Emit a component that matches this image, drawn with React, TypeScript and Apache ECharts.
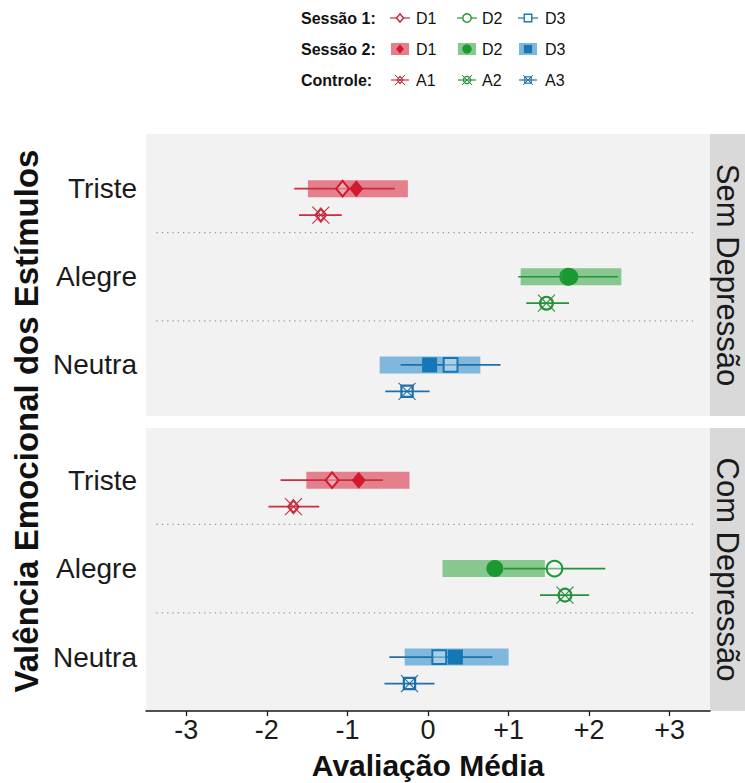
import React, { useEffect, useRef } from 'react';
import * as echarts from 'echarts';

const categories = ['Triste', 'Alegre', 'Neutra'];
const panelNames = ['Sem Depressão', 'Com Depressão'];
const xTickValues = [-3, -2, -1, 0, 1, 2, 3];
const legendRowLabels = ['Sessão 1:', 'Sessão 2:', 'Controle:'];
const legendItemLabels = [['D1', 'D2', 'D3'], ['D1', 'D2', 'D3'], ['A1', 'A2', 'A3']];
const xAxisTitle = 'Avaliação Média';
const yAxisTitle = 'Valência Emocional dos Estímulos';

// [mean, lower, upper] for Triste, Alegre, Neutra
const sessao1Sem = [[-1.06, -1.66, -0.41], [1.74, 1.12, 2.36], [0.28, -0.34, 0.9]];
const sessao2Sem = [[-0.89, -1.49, -0.25], [1.76, 1.15, 2.4], [0.02, -0.6, 0.65]];
const controleSem = [[-1.33, -1.6, -1.07], [1.47, 1.22, 1.75], [-0.26, -0.53, 0.02]];
const sessao1Com = [[-1.19, -1.83, -0.56], [1.57, 0.94, 2.2], [0.14, -0.48, 0.8]];
const sessao2Com = [[-0.86, -1.51, -0.23], [0.83, 0.18, 1.45], [0.34, -0.29, 1.0]];
const controleCom = [[-1.67, -1.98, -1.35], [1.7, 1.39, 2.0], [-0.23, -0.54, 0.08]];
const separators = [0.5, 1.5];

const markColors = ['#d11a2e', '#1a9933', '#1677b6'];
const lineColors = ['#c62f40', '#27903a', '#1d70a8'];
const bandColors = ['#e57f8c', '#86c88d', '#7fb8dc'];

const FONT = "'Liberation Sans', Arial, sans-serif";
const CTRL_OFFSET = 0.3;
const SEP_FROM = -3.37;
const SEP_TO = 3.3;

function marker(kind: number, cx: number, cy: number, scale: number, style: any) {
  if (kind === 0) {
    const w = 7 * scale, h = 8.5 * scale;
    return { type: 'polygon', shape: { points: [[cx, cy - h], [cx + w, cy], [cx, cy + h], [cx - w, cy]] }, style };
  }
  if (kind === 1) {
    return { type: 'circle', shape: { cx, cy, r: 8.5 * scale }, style };
  }
  const s = 7.5 * scale;
  return { type: 'rect', shape: { x: cx - s, y: cy - s, width: 2 * s, height: 2 * s }, style };
}

function xMark(cx: number, cy: number, r: number, color: string, lw: number) {
  return [
    { type: 'line', shape: { x1: cx - r, y1: cy - r, x2: cx + r, y2: cy + r }, style: { stroke: color, lineWidth: lw } },
    { type: 'line', shape: { x1: cx - r, y1: cy + r, x2: cx + r, y2: cy - r }, style: { stroke: color, lineWidth: lw } },
  ];
}

const toData = (arr: number[][]) => arr.map((d, i) => [i, d[0], d[1], d[2]]);

function panelSeries(p: number, s1: number[][], s2: number[][], ctrl: number[][]) {
  const base = { type: 'custom', xAxisIndex: p, yAxisIndex: p, encode: { x: [1, 2, 3], y: 0 }, silent: true };
  return [
    {
      ...base,
      data: separators.map((v) => [v, 0, 0, 0]),
      renderItem: (params: any, api: any) => {
        const v = api.value(0);
        const a = api.coord([SEP_FROM, v]);
        const b = api.coord([SEP_TO, v]);
        return { type: 'line', shape: { x1: a[0], y1: a[1], x2: b[0], y2: b[1] }, style: { stroke: '#9a9a9a', lineWidth: 1.3, lineDash: [1.3, 4] } };
      },
    },
    {
      ...base,
      data: toData(s2),
      renderItem: (params: any, api: any) => {
        const i = api.value(0);
        const a = api.coord([api.value(2), i]);
        const b = api.coord([api.value(3), i]);
        return { type: 'rect', shape: { x: a[0], y: a[1] - 8.5, width: b[0] - a[0], height: 17 }, style: { fill: bandColors[i] } };
      },
    },
    {
      ...base,
      data: toData(s1),
      renderItem: (params: any, api: any) => {
        const i = api.value(0);
        const a = api.coord([api.value(2), i]);
        const b = api.coord([api.value(3), i]);
        const m = api.coord([api.value(1), i]);
        return {
          type: 'group',
          children: [
            { type: 'line', shape: { x1: a[0], y1: a[1], x2: b[0], y2: b[1] }, style: { stroke: lineColors[i], lineWidth: 1.7 } },
            marker(i, m[0], m[1], 0.92, { fill: 'rgba(255,255,255,0.35)', stroke: markColors[i], lineWidth: 2 }),
          ],
        };
      },
    },
    {
      ...base,
      data: toData(s2),
      renderItem: (params: any, api: any) => {
        const i = api.value(0);
        const m = api.coord([api.value(1), i]);
        return marker(i, m[0], m[1], 1, { fill: markColors[i] });
      },
    },
    {
      ...base,
      data: toData(ctrl),
      renderItem: (params: any, api: any) => {
        const i = api.value(0);
        const y = i + CTRL_OFFSET;
        const a = api.coord([api.value(2), y]);
        const b = api.coord([api.value(3), y]);
        const m = api.coord([api.value(1), y]);
        return {
          type: 'group',
          children: [
            { type: 'line', shape: { x1: a[0], y1: a[1], x2: b[0], y2: b[1] }, style: { stroke: lineColors[i], lineWidth: 1.7 } },
            marker(i, m[0], m[1], 0.75, { fill: 'none', stroke: lineColors[i], lineWidth: 2.2 }),
            ...xMark(m[0], m[1], 8.5, lineColors[i], 1.1),
          ],
        };
      },
    },
  ];
}

function legendGraphics() {
  const rowY = [18, 49, 80];
  const symX = [400, 467, 528];
  const textX = [416, 482, 545];
  const els: any[] = [];
  legendRowLabels.forEach((lab, r) => {
    const y = rowY[r];
    els.push({ type: 'text', x: 301, y, style: { text: lab, font: `bold 16px ${FONT}`, fill: '#111', align: 'left', verticalAlign: 'middle', textAlign: 'left', textVerticalAlign: 'middle' } });
    legendItemLabels[r].forEach((it, k) => {
      const x = symX[k];
      if (r === 0) {
        els.push({ type: 'line', shape: { x1: x - 10, y1: y, x2: x + 10, y2: y }, style: { stroke: lineColors[k], lineWidth: 1.2 } });
        els.push(marker(k, x, y, 0.5, { fill: '#fff', stroke: markColors[k], lineWidth: 1.4 }));
      } else if (r === 1) {
        els.push({ type: 'rect', shape: { x: x - 9, y: y - 6, width: 18, height: 12 }, style: { fill: bandColors[k] } });
        els.push(marker(k, x, y, 0.55, { fill: markColors[k] }));
      } else {
        els.push({ type: 'line', shape: { x1: x - 9, y1: y, x2: x + 9, y2: y }, style: { stroke: lineColors[k], lineWidth: 1.2 } });
        els.push(marker(k, x, y, 0.42, { fill: 'none', stroke: lineColors[k], lineWidth: 1.3 }));
        xMark(x, y, 5, lineColors[k], 1).forEach((e) => els.push(e));
      }
      els.push({ type: 'text', x: textX[k], y, style: { text: it, font: `16px ${FONT}`, fill: '#111', align: 'left', verticalAlign: 'middle', textAlign: 'left', textVerticalAlign: 'middle' } });
    });
  });
  return els;
}

export default function App() {
  const ref = useRef<HTMLDivElement>(null);
  useEffect(() => {
    if (!ref.current) return;
    const chart = echarts.init(ref.current, undefined, { renderer: 'svg' });
    const grids = [
      { left: 146, top: 134, width: 564, height: 282 },
      { left: 146, top: 428, width: 564, height: 283 },
    ];
    const yRanges = [[-0.62, 2.58], [-0.59, 2.61]];
    const option: any = {
      animation: false,
      backgroundColor: '#ffffff',
      grid: grids.map((g) => ({ ...g, show: true, backgroundColor: '#f2f2f2', borderWidth: 0 })),
      xAxis: [0, 1].map((p) => ({
        type: 'value',
        gridIndex: p,
        min: -3.5,
        max: 3.5,
        splitLine: { show: false },
        axisLine: { show: p === 1, onZero: false, lineStyle: { color: '#1a1a1a', width: 1.5 } },
        axisTick: { show: p === 1, customValues: xTickValues, length: 5, lineStyle: { color: '#1a1a1a', width: 1.3 } },
        axisLabel: {
          show: p === 1,
          customValues: xTickValues,
          formatter: (v: number) => (v > 0 ? '+' + v : String(v)),
          fontSize: 27,
          fontFamily: FONT,
          color: '#1a1a1a',
          margin: 5,
        },
      })),
      yAxis: [0, 1].map((p) => ({
        type: 'value',
        gridIndex: p,
        inverse: true,
        min: yRanges[p][0],
        max: yRanges[p][1],
        splitLine: { show: false },
        axisLine: { show: false },
        axisTick: { show: false },
        axisLabel: {
          customValues: [0, 1, 2],
          formatter: (v: number) => categories[Math.round(v)] ?? '',
          fontSize: 28,
          fontFamily: FONT,
          color: '#1a1a1a',
          margin: 9,
        },
      })),
      series: [
        ...panelSeries(0, sessao1Sem, sessao2Sem, controleSem),
        ...panelSeries(1, sessao1Com, sessao2Com, controleCom),
      ],
      graphic: [
        ...grids.map((g, p) => ({
          type: 'group',
          children: [
            { type: 'rect', shape: { x: 710, y: g.top, width: 35, height: g.height }, style: { fill: '#d9d9d9' } },
            {
              type: 'text',
              x: 727,
              y: g.top + g.height / 2,
              rotation: -Math.PI / 2,
              style: { text: panelNames[p], font: `31px ${FONT}`, fill: '#1a1a1a', align: 'center', verticalAlign: 'middle', textAlign: 'center', textVerticalAlign: 'middle' },
            },
          ],
        })),
        {
          type: 'text',
          x: 26,
          y: 421,
          rotation: Math.PI / 2,
          style: { text: yAxisTitle, font: `bold 33px ${FONT}`, fill: '#111', align: 'center', verticalAlign: 'middle', textAlign: 'center', textVerticalAlign: 'middle' },
        },
        {
          type: 'text',
          x: 428,
          y: 765,
          style: { text: xAxisTitle, font: `bold 30px ${FONT}`, fill: '#111', align: 'center', verticalAlign: 'middle', textAlign: 'center', textVerticalAlign: 'middle' },
        },
        ...legendGraphics(),
      ],
    };
    chart.setOption(option);
    return () => chart.dispose();
  }, []);
  return <div ref={ref} style={{ position: 'absolute', left: 0, top: 0, width: 745, height: 783 }} />;
}
